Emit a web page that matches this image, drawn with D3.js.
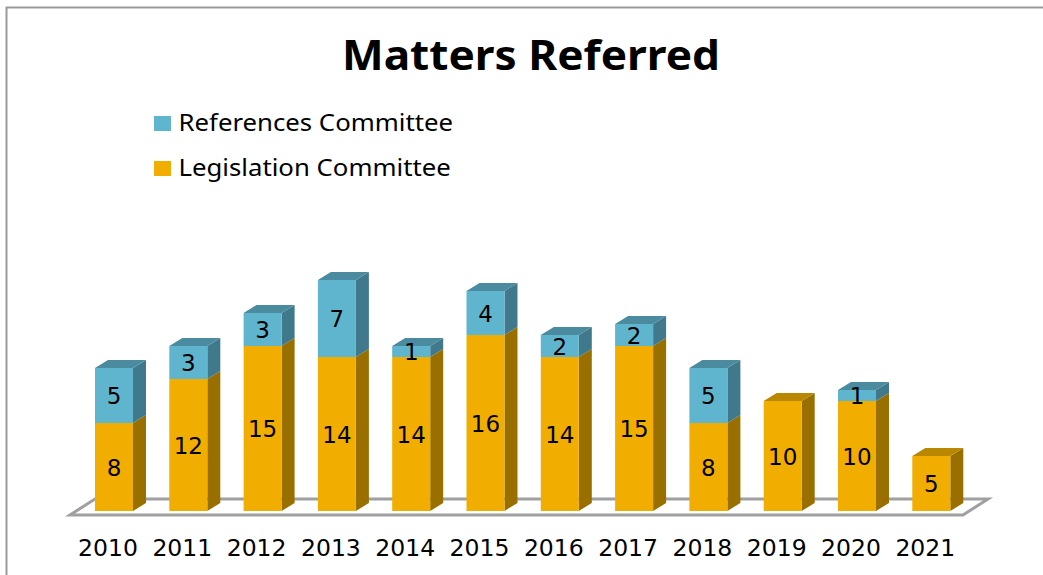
<!DOCTYPE html>
<html>
<head>
<meta charset="utf-8">
<script src="https://cdn.jsdelivr.net/npm/d3@7"></script>
<style>
   html, body { margin: 0; padding: 0; background: #fff; overflow: hidden; }
   svg { display: block; }
   text { fill: #000; }
</style>
</head>
<body>
<div id="chart"></div>
<script>
// CHART DATA
var title = 'Matters Referred';
var years = ['2010', '2011', '2012', '2013', '2014', '2015', '2016', '2017', '2018', '2019', '2020', '2021'];
var legislation = [8, 12, 15, 14, 14, 16, 14, 15, 8, 10, 10, 5];
var references = [5, 3, 3, 7, 1, 4, 2, 2, 5, 0, 1, 0];
var seriesNames = ['Legislation Committee', 'References Committee'];

// SETTINGS
var settings = {
   width: 1043,
   height: 575,
   base: 511,
   depth: { x: 13, y: 8 },
   font: '"DejaVu Sans", sans-serif',
   wide: '"Noto Sans", sans-serif',
   front: ['#F2AE00', '#60B5CE'],
   side: ['#997000', '#41798C'],
   top: ['#B98700', '#4A8B9F']
};

// GENERATE CANVAS
var canvas = d3.select('#chart').append('svg')
   .attr('width', settings.width)
   .attr('height', settings.height)

// OUTER FRAME -- RIGHT AND BOTTOM EDGES FALL OUTSIDE THE PICTURE
canvas.append('path')
   .attr('d', 'M6.5,575V7.5H1043')
   .attr('fill', 'none')
   .attr('stroke', '#999')
   .attr('stroke-width', 2)

// X-SCALING
var xScale = d3.scaleBand()
   .domain(years)
   .range([76.85, 968.45])
   .paddingInner(0.4886)
   .paddingOuter(0.2443)

// Y-SCALING -- 11PX PER MATTER
var yScale = d3.scaleLinear()
   .domain([0, 21])
   .range([settings.base, settings.base - 231])

// FLOOR
canvas.append('path')
   .attr('d', 'M70,515H963L988,499H95Z')
   .attr('fill', '#fff')
   .attr('stroke', '#A0A0A0')
   .attr('stroke-width', 3)

// STACK THE TWO SERIES
var rows = years.map((year, i) => { return { year: year, 0: legislation[i], 1: references[i] } });
var stacked = d3.stack().keys([0, 1])(rows);

// BARS
stacked.forEach((layer, s) => {
   var group = canvas.append('g').attr('class', 'series-' + s);
   var bars = layer.filter(d => d[1] > d[0]);

   // SIDE FACE
   group.selectAll('path.side')
      .data(bars)
      .enter().append('path')
         .attr('class', 'side')
         .attr('fill', settings.side[s])
         .attr('d', d => {
            var x = xScale(d.data.year) + xScale.bandwidth();
            return 'M' + x + ',' + yScale(d[0]) + 'V' + yScale(d[1])
               + 'l' + settings.depth.x + ',' + (-settings.depth.y)
               + 'V' + (yScale(d[0]) - settings.depth.y) + 'Z';
         })

   // FRONT FACE
   group.selectAll('rect')
      .data(bars)
      .enter().append('rect')
         .attr('x', d => xScale(d.data.year))
         .attr('y', d => yScale(d[1]))
         .attr('width', xScale.bandwidth())
         .attr('height', d => yScale(d[0]) - yScale(d[1]))
         .attr('fill', settings.front[s])

   // TOP FACE -- ONLY WHERE NOTHING IS STACKED ABOVE
   group.selectAll('path.top')
      .data(bars.filter(d => d[1] == d.data[0] + d.data[1]))
      .enter().append('path')
         .attr('class', 'top')
         .attr('fill', settings.top[s])
         .attr('d', d => {
            return 'M' + xScale(d.data.year) + ',' + yScale(d[1])
               + 'h' + xScale.bandwidth()
               + 'l' + settings.depth.x + ',' + (-settings.depth.y)
               + 'h' + (-xScale.bandwidth()) + 'Z';
         })
});

// VALUE LABELS
stacked.forEach((layer) => {
   canvas.append('g').selectAll('text')
      .data(layer.filter(d => d[1] > d[0]))
      .enter().append('text')
         .attr('x', d => xScale(d.data.year) + xScale.bandwidth() / 2)
         .attr('y', d => (yScale(d[0]) + yScale(d[1])) / 2 + 0.5)
         .attr('dy', '0.36em')
         .attr('text-anchor', 'middle')
         .attr('font-family', settings.font)
         .attr('font-size', 23)
         .text(d => d[1] - d[0])
});

// X-AXIS -- LABELS SIT A LITTLE LEFT OF THE BARS, ON THE FLOOR'S FRONT EDGE
var xAxis = d3.axisBottom(xScale).tickSize(0).tickPadding(0);
canvas.append('g')
   .attr('transform', 'translate(-6,' + 539 + ')')
   .call(xAxis)
   .call(g => g.select('.domain').remove())
   .selectAll('text')
      .attr('font-family', settings.font)
      .attr('font-size', 23.5)
      .attr('fill', '#000')

// TITLE -- SQUEEZED TALL, STRETCHED WIDE LIKE THE ORIGINAL
canvas.append('text')
   .attr('x', 531)
   .attr('y', 70)
   .attr('text-anchor', 'middle')
   .attr('font-family', settings.wide)
   .attr('font-weight', 700)
   .attr('font-size', 41)
   .attr('textLength', 378)
   .attr('lengthAdjust', 'spacingAndGlyphs')
   .text(title)

// LEGEND
var legend = canvas.selectAll('g.legend')
   .data([1, 0])
   .enter().append('g')
      .attr('class', 'legend')
      .attr('transform', (d, i) => 'translate(154,' + (116 + i * 45) + ')')

legend.append('rect')
   .attr('width', 17)
   .attr('height', 15)
   .attr('fill', d => settings.front[d])

legend.append('text')
   .attr('transform', 'translate(24.5,15) scale(1.12,1)')
   .attr('font-family', settings.wide)
   .attr('font-size', 23)
   .text(d => seriesNames[d])
</script>
</body>
</html>
